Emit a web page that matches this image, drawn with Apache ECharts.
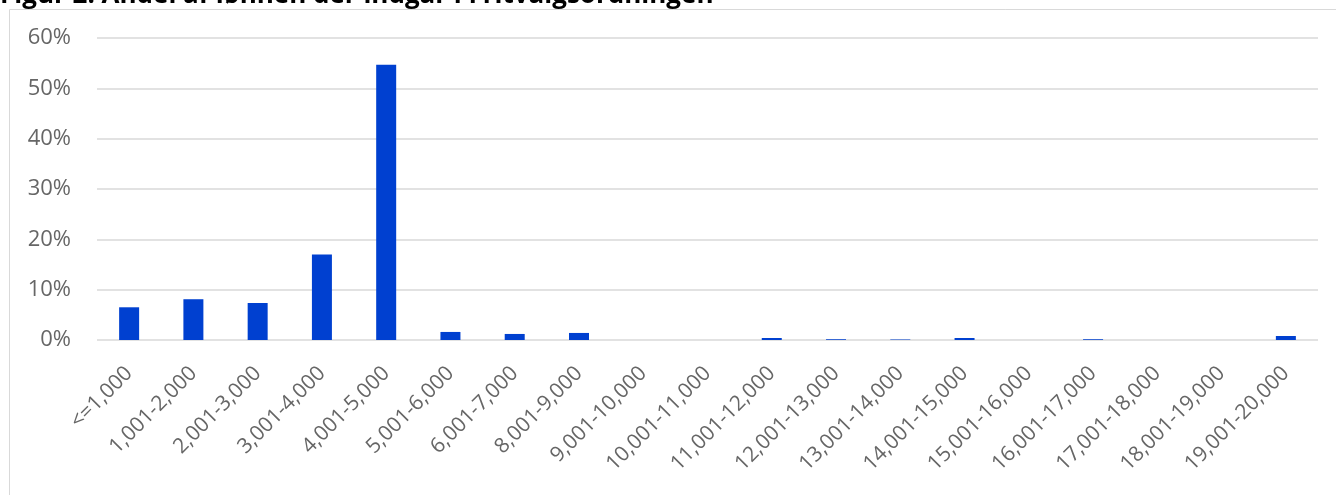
<!DOCTYPE html>
<html>
<head>
<meta charset="utf-8">
<script src="https://cdn.jsdelivr.net/npm/echarts@6/dist/echarts.min.js"></script>
<style>
html,body{margin:0;padding:0;background:#fff;}
#chart{width:1336px;height:495px;}
</style>
</head>
<body>
<div id="chart"></div>
<script>
const titleText = "Figur 2. Andel af lønnen der indgår i Fritvalgsordningen";
const categories = ["<=1,000","1,001-2,000","2,001-3,000","3,001-4,000","4,001-5,000","5,001-6,000","6,001-7,000","8,001-9,000","9,001-10,000","10,001-11,000","11,001-12,000","12,001-13,000","13,001-14,000","14,001-15,000","15,001-16,000","16,001-17,000","17,001-18,000","18,001-19,000","19,001-20,000"];
const shares = [6.5, 8.1, 7.35, 17.0, 54.7, 1.6, 1.2, 1.4, 0, 0, 0.4, 0.15, 0.1, 0.4, 0, 0.15, 0, 0, 0.8];
const yTicks = {min: 0, max: 60, interval: 10};

const chart = echarts.init(document.getElementById('chart'), null, {renderer: 'canvas'});
const font = '"Open Sans", "Noto Sans", sans-serif';
chart.setOption({
  animation: false,
  graphic: [
    {type: 'rect', shape: {x: 9.5, y: 9.5, width: 1500, height: 700}, style: {fill: null, stroke: '#d9d9d9', lineWidth: 1}},
    {type: 'text', left: 0, top: -17, style: {text: titleText, font: 'bold 26px ' + font, fill: '#000'}}
  ],
  grid: {left: 97, right: 18, top: 38, bottom: 155, containLabel: false},
  xAxis: {
    type: 'category',
    data: categories,
    axisLine: {show: false},
    axisTick: {show: false},
    axisLabel: {rotate: 45, margin: 30, fontSize: 21, color: '#666', fontFamily: font, interval: 0}
  },
  yAxis: {
    type: 'value',
    min: yTicks.min, max: yTicks.max, interval: yTicks.interval,
    axisLine: {show: false},
    axisTick: {show: false},
    splitLine: {lineStyle: {color: '#d9d9d9', width: 1.5}},
    axisLabel: {formatter: '{value}%', fontSize: 22, color: '#666', fontFamily: font, margin: 26}
  },
  series: [{
    type: 'bar',
    data: shares,
    barWidth: 20,
    itemStyle: {color: '#0040d0'}
  }]
});
</script>
</body>
</html>
